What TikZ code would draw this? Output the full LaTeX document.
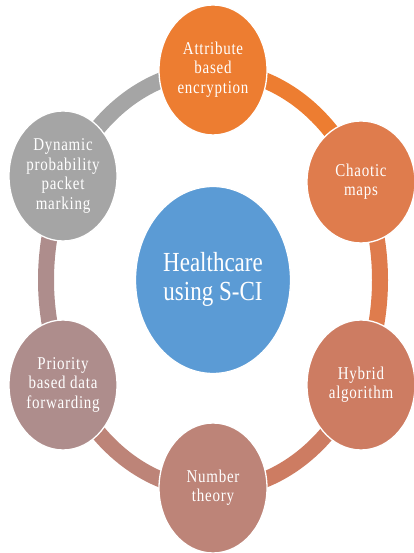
\documentclass[tikz,border=0pt]{standalone}
\usepackage{fontspec}
\setmainfont{Liberation Serif}
\usetikzlibrary{shapes.geometric}
\newcommand\mytxt[1]{\scalebox{1}[1.2]{\begin{tabular}{@{}c@{}}#1\end{tabular}}}
\definecolor{cA}{HTML}{ED7D31}
\definecolor{cB}{HTML}{DF7C4D}
\definecolor{cC}{HTML}{CD7C62}
\definecolor{cD}{HTML}{BD8478}
\definecolor{cE}{HTML}{AE8D8C}
\definecolor{cF}{HTML}{A5A5A5}
\definecolor{cHub}{HTML}{5B9BD5}
\begin{document}
\begin{tikzpicture}[x=1pt,y=1pt,
  sat/.style={ellipse, draw=white, line width=1.3pt, minimum width=108pt,
    minimum height=130pt, inner sep=0pt, text=white,
    font=\fontsize{15}{16.4}\selectfont\addfontfeatures{LetterSpace=5}},
  hub/.style={ellipse, draw=white, line width=1.3pt, fill=cHub,
    minimum width=155pt, minimum height=187pt, inner sep=0pt, text=white,
    font=\fontsize{23}{24.5}\selectfont},
  seg/.style={line width=16pt},
  rarc/.style={x radius=167pt, y radius=210pt}]
\useasboundingbox (0,0) rectangle (414,553);
\coordinate (ringc) at (213,273);
\draw[seg, cA] ([shift={(90:167pt and 210pt)}]ringc) arc[rarc, start angle=90, end angle=28];
\draw[seg, cB] ([shift={(28:167pt and 210pt)}]ringc) arc[rarc, start angle=28, end angle=-30];
\draw[seg, cC] ([shift={(-30:167pt and 210pt)}]ringc) arc[rarc, start angle=-30, end angle=-90];
\draw[seg, cD] ([shift={(-90:167pt and 210pt)}]ringc) arc[rarc, start angle=-90, end angle=-150];
\draw[seg, cE] ([shift={(-150:167pt and 210pt)}]ringc) arc[rarc, start angle=-150, end angle=-208];
\draw[seg, cF] ([shift={(-208:167pt and 210pt)}]ringc) arc[rarc, start angle=-208, end angle=-270];
\node[hub] (hub) at (213,273) {\mytxt{Healthcare\\using S-CI}};
\node[sat, fill=cA] (abe) at (213,483) {\mytxt{Attribute\\based\\encryption}};
\node[sat, fill=cB, minimum height=122pt] (cha) at (361,371) {\mytxt{Chaotic\\maps}};
\node[sat, fill=cC] (hyb) at (361,168) {\mytxt{Hybrid\\algorithm}};
\node[sat, fill=cD] (num) at (213,65) {\mytxt{Number\\theory}};
\node[sat, fill=cE] (pri) at (63,168) {\mytxt{Priority\\based data\\forwarding}};
\node[sat, fill=cF] (dyn) at (63,377) {\mytxt{Dynamic\\probability\\packet\\marking}};
\end{tikzpicture}
\end{document}
